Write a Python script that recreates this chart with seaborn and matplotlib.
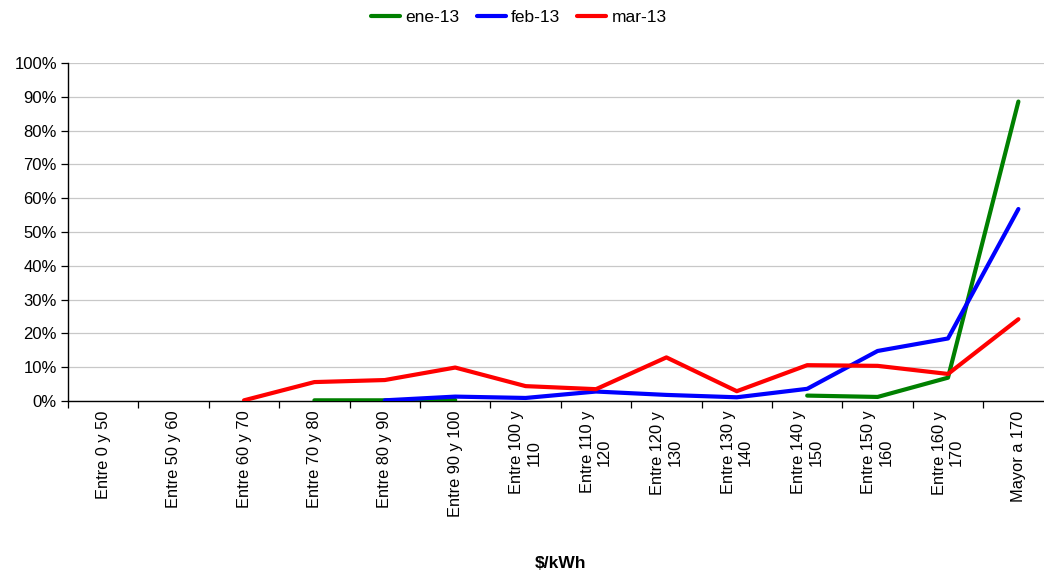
import numpy as np
import pandas as pd
import matplotlib
matplotlib.use("Agg")
import matplotlib.pyplot as plt
from matplotlib.lines import Line2D
from matplotlib.ticker import FuncFormatter, FixedLocator
import seaborn as sns

categorias = [
    "Entre 0 y 50", "Entre 50 y 60", "Entre 60 y 70", "Entre 70 y 80",
    "Entre 80 y 90", "Entre 90 y 100", "Entre 100 y\n110", "Entre 110 y\n120",
    "Entre 120 y\n130", "Entre 130 y\n140", "Entre 140 y\n150", "Entre 150 y\n160",
    "Entre 160 y\n170", "Mayor a 170",
]
nan = np.nan
ene_13 = [nan, nan, nan, 0.2, 0.2, 0.3, nan, nan, nan, nan, 1.6, 1.2, 6.9, 88.6]
feb_13 = [nan, nan, nan, nan, 0.2, 1.3, 0.9, 2.8, 1.8, 1.1, 3.6, 14.8, 18.5, 56.8]
mar_13 = [nan, nan, 0.2, 5.6, 6.2, 9.9, 4.4, 3.5, 12.9, 2.9, 10.6, 10.4, 8.0, 24.2]

series = {"ene-13": ene_13, "feb-13": feb_13, "mar-13": mar_13}
colores = {"ene-13": "#008000", "feb-13": "#0000FF", "mar-13": "#FF0000"}

# long-form table; each unbroken run of values gets its own unit id so gaps stay open
filas = []
for nombre, valores in series.items():
    seg = 0
    prev_ok = False
    for i, v in enumerate(valores):
        ok = not np.isnan(v)
        if ok and not prev_ok:
            seg += 1
        if ok:
            filas.append({"mes": nombre, "pos": i, "valor": v / 100.0,
                          "tramo": f"{nombre}-{seg}"})
        prev_ok = ok
df = pd.DataFrame(filas)

sns.set_theme(style="white")
plt.rcParams["font.family"] = ["Liberation Sans", "DejaVu Sans"]
plt.rcParams["text.color"] = "black"
plt.rcParams["axes.labelcolor"] = "black"
plt.rcParams["xtick.color"] = "black"
plt.rcParams["ytick.color"] = "black"

fig = plt.figure(figsize=(10.44, 5.76), dpi=100)
ax = fig.add_axes([68 / 1044, 175 / 576, 985.6 / 1044, 338 / 576])

sns.lineplot(data=df, x="pos", y="valor", hue="mes", units="tramo",
             estimator=None, palette=colores, linewidth=3.0, ax=ax,
             legend=False, zorder=3)

ax.set_xlim(-0.5, len(categorias) - 0.5)
ax.set_ylim(0, 1.0)
ax.yaxis.set_major_locator(FixedLocator(np.arange(0, 1.01, 0.1)))
ax.yaxis.set_major_formatter(FuncFormatter(lambda v, _: f"{v * 100:.0f}%"))
ax.grid(axis="y", color="#C8C8C8", linewidth=0.9, zorder=0)
ax.grid(axis="x", visible=False)

ax.set_xticks(range(len(categorias)))
ax.set_xticklabels(categorias, rotation=90, ha="center", va="top",
                   fontsize=11.8, multialignment="center")
ax.set_xticks(np.arange(-0.5, len(categorias), 1.0), minor=True)
ax.tick_params(axis="x", which="major", length=0, pad=7)
ax.tick_params(axis="x", which="minor", length=5, width=0.9, color="black",
               direction="out", bottom=True)
ax.tick_params(axis="y", length=5, width=0.9, color="black", direction="out",
               left=True, labelsize=12, pad=3)

for lado in ("top", "right"):
    ax.spines[lado].set_visible(False)
for lado in ("left", "bottom"):
    ax.spines[lado].set_color("black")
    ax.spines[lado].set_linewidth(1.0)

ax.set_xlabel("\\$/kWh", fontsize=12.5, fontweight="bold", va="center")
ax.xaxis.set_label_coords(0.5, (401 - 563) / 338)
ax.set_ylabel("")

manijas = [Line2D([0], [0], color=colores[n], linewidth=3.0) for n in series]
fig.legend(manijas, list(series.keys()), loc="center", ncol=3,
           bbox_to_anchor=(0.497, 1 - 17 / 576), frameon=False, fontsize=12.5,
           handlelength=1.67, handletextpad=0.3, columnspacing=1.0)

fig.savefig("out.png", dpi=100)
